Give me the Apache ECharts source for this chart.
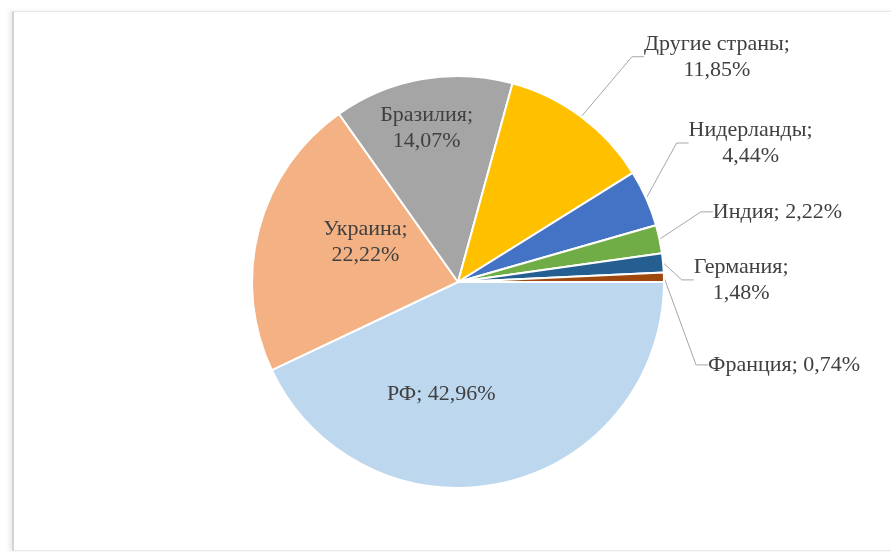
<!DOCTYPE html>
<html>
<head>
<meta charset="utf-8">
<script src="https://cdn.jsdelivr.net/npm/echarts@6/dist/echarts.min.js"></script>
<style>
  html, body { margin: 0; padding: 0; background: #fff; }
  .frame {
    position: absolute; left: 12px; top: 11px; width: 900px; height: 538px;
    border-left: 2px solid #d4d4d4; border-top: 1px solid #e8e8e8; border-bottom: 1px solid #e8e8e8;
    box-shadow: -3px 0 4px rgba(0,0,0,0.08);
  }
  #chart { position: absolute; left: 0; top: 0; width: 891px; height: 552px; }
</style>
</head>
<body>
<div class="frame"></div>
<div id="chart"></div>
<script>
const countries = ['РФ', 'Украина', 'Бразилия', 'Другие страны', 'Нидерланды', 'Индия', 'Германия', 'Франция']
const shares = [42.96, 22.22, 14.07, 11.85, 4.44, 2.22, 1.48, 0.74]
const colors = ['#bdd7ee', '#f4b183', '#a5a5a5', '#ffc000', '#4472c4', '#70ad47', '#255e91', '#9e480e']
// the first three labels sit inside their slices
const insideLabels = ['РФ', 'Украина', 'Бразилия']
// labels broken onto two lines like the original
const wrapped = ['Украина', 'Бразилия', 'Другие страны', 'Нидерланды', 'Германия']

const fmt = v => v.toFixed(2).replace('.', ',') + '%'

// nudges from echarts' own label spots to where Excel put them
const nudge = {
  'РФ': [-40, 9],
  'Украина': [10, -13],
  'Бразилия': [-13, -49],
  'Другие страны': [22, -28],
  'Нидерланды': [-7, -39],
  'Индия': [2, -19],
  'Германия': [-22, 8],
  'Франция': [-6, 52]
}

const chart = echarts.init(document.getElementById('chart'), null, { renderer: 'canvas' })

chart.setOption({
  animation: false,
  series: [{
    type: 'pie',
    center: [458, 282],
    radius: 206,
    startAngle: 0,
    clockwise: true,
    itemStyle: { borderColor: '#fff', borderWidth: 2 },
    label: {
      fontFamily: 'Liberation Serif',
      fontSize: 22,
      color: '#404040',
      lineHeight: 26,
      formatter: p => p.name + ';' + (wrapped.includes(p.name) ? '\n' : ' ') + fmt(p.value)
    },
    labelLine: {
      length: 40,
      length2: 12,
      lineStyle: { color: '#a6a6a6', width: 1 }
    },
    labelLayout: p => {
      const r = p.labelRect
      const d = nudge[countries[p.dataIndex]]
      return {
        x: r.x + r.width / 2 + d[0],
        y: r.y + r.height / 2 + d[1],
        align: 'center',
        verticalAlign: 'middle'
      }
    },
    data: countries.map((name, i) => ({
      name,
      value: shares[i],
      itemStyle: { color: colors[i] },
      label: { position: insideLabels.includes(name) ? 'inside' : 'outside' },
      labelLine: { show: !insideLabels.includes(name) }
    }))
  }]
})
</script>
</body>
</html>
